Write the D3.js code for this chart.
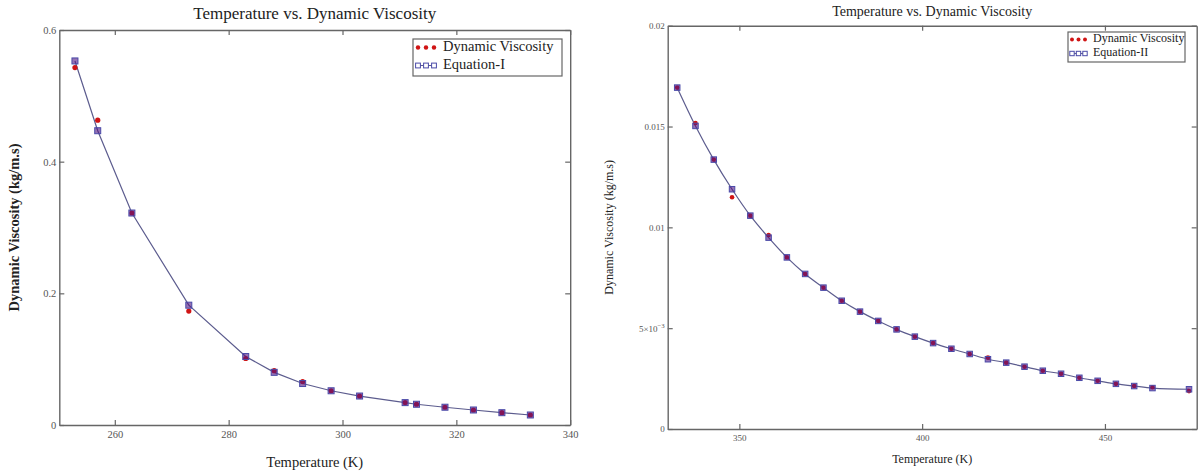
<!DOCTYPE html>
<html>
<head>
<meta charset="utf-8">
<script src="https://cdnjs.cloudflare.com/ajax/libs/d3/7.8.5/d3.min.js"></script>
<style>
  body { margin: 0; background: #fff; }
  svg text { font-family: "Liberation Serif", "Times New Roman", serif; }
  .tick text { fill: #555; }
  .domain, .tick line { stroke: #666; }
</style>
</head>
<body>
<svg id="chart" width="1198" height="474"></svg>
<script>
// left panel: measured viscosity vs Equation-I
const tempsI = [253, 257, 263, 273, 283, 288, 293, 298, 303, 311, 313, 318, 323, 328, 333];
const viscI = [0.543, 0.463, 0.322, 0.173, 0.101, 0.0825, 0.066, 0.052, 0.044, 0.034, 0.0315, 0.027, 0.0228, 0.0187, 0.0152];
const equationI = [0.553, 0.447, 0.322, 0.182, 0.104, 0.080, 0.063, 0.052, 0.044, 0.034, 0.0315, 0.027, 0.0228, 0.0187, 0.0152];
const xTicksI = [260, 280, 300, 320, 340];
const yTicksI = [0, 0.2, 0.4, 0.6];

// right panel: measured viscosity vs Equation-II
const tempsII = [333, 338, 343, 348, 353, 358, 363, 368, 373, 378, 383, 388, 393, 398,
       403, 408, 413, 418, 423, 428, 433, 438, 443, 448, 453, 458, 463, 473];
const viscII = [0.01693, 0.01517, 0.01336, 0.01149, 0.01058, 0.00962, 0.00851, 0.00769, 0.00701, 0.00636,
       0.00582, 0.00536, 0.00494, 0.00458, 0.00426, 0.00398, 0.00372, 0.00354, 0.00329, 0.00309,
       0.00289, 0.00274, 0.00254, 0.00239, 0.00224, 0.00213, 0.00207, 0.00188];
const equationII = [0.01693, 0.01503, 0.01336, 0.01189, 0.01058, 0.00949, 0.00851, 0.00769, 0.00701, 0.00636,
       0.00582, 0.00536, 0.00494, 0.00458, 0.00426, 0.00398, 0.00372, 0.00346, 0.00329, 0.00309,
       0.00289, 0.00274, 0.00254, 0.00239, 0.00224, 0.00213, 0.00203, 0.00197];
const xTicksII = [350, 400, 450];
const yTicksII = [0, 0.005, 0.01, 0.015, 0.02];

const redDot = '#d01414';
const squareStroke = '#4a4aa8';
const lineColor = '#5c5c8e';

function create_panel(cfg) {
    var svg = d3.select('#chart');
    var g = svg.append('g').attr('transform', 'translate(' + cfg.left + ',' + cfg.top + ')');
    var width = cfg.right - cfg.left;
    var height = cfg.bottom - cfg.top;
    var xs = d3.scaleLinear().domain(cfg.xDomain).range([0, width]);
    var ys = d3.scaleLinear().domain(cfg.yDomain).range([height, 0]);

    // box with inward ticks on all four sides
    g.append('g').attr('transform', 'translate(0,' + height + ')')
        .call(d3.axisBottom(xs).tickValues(cfg.xTicks).tickSizeInner(-5).tickSizeOuter(0).tickPadding(6).tickFormat(d3.format('d')))
        .call(a => a.selectAll('text').style('font-size', cfg.tickFont + 'px'));
    g.append('g')
        .call(d3.axisTop(xs).tickValues(cfg.xTicks).tickSizeInner(-5).tickSizeOuter(0).tickFormat(''));
    var yl = g.append('g')
        .call(d3.axisLeft(ys).tickValues(cfg.yTicks).tickSizeInner(-5).tickSizeOuter(0).tickPadding(3).tickFormat(cfg.yFormat));
    yl.selectAll('text').style('font-size', cfg.tickFont + 'px');
    g.append('g').attr('transform', 'translate(' + width + ',0)')
        .call(d3.axisRight(ys).tickValues(cfg.yTicks).tickSizeInner(-5).tickSizeOuter(0).tickFormat(''));
    g.selectAll('.domain').attr('stroke-width', 1.4);
    g.selectAll('.tick line').attr('stroke-width', 1.2);

    // 5x10^-3 style label
    if (cfg.sciTick) {
        yl.selectAll('.tick text').filter(d => d === 0.005).each(function () {
            var t = d3.select(this).text('');
            t.append('tspan').text('5\u00d710');
            t.append('tspan').attr('dy', '-0.5em').style('font-size', (cfg.tickFont * 0.75) + 'px').text('\u22123');
        });
    }

    var line = d3.line()
        .x((d, i) => xs(cfg.temps[i]))
        .y(d => ys(d))
        .curve(cfg.curve);
    g.append('path').datum(cfg.equation)
        .attr('d', line)
        .attr('fill', 'none')
        .attr('stroke', lineColor)
        .attr('stroke-width', 1.2);

    g.selectAll('circle.meas').data(cfg.measured).enter().append('circle')
        .attr('class', 'meas')
        .attr('cx', (d, i) => xs(cfg.temps[i]))
        .attr('cy', d => ys(d))
        .attr('r', cfg.dotR)
        .attr('fill', redDot);

    var s = cfg.sq;
    g.selectAll('rect.eq').data(cfg.equation).enter().append('rect')
        .attr('class', 'eq')
        .attr('x', (d, i) => xs(cfg.temps[i]) - s / 2)
        .attr('y', d => ys(d) - s / 2)
        .attr('width', s)
        .attr('height', s)
        .attr('fill', 'rgba(80,20,130,0.6)')
        .attr('stroke', squareStroke)
        .attr('stroke-width', 1);

    // titles
    var cx = (cfg.left + cfg.right) / 2;
    svg.append('text').attr('x', cx).attr('y', cfg.titleY)
        .attr('text-anchor', 'middle').style('font-size', cfg.titleFont + 'px').style('fill', '#222')
        .text('Temperature vs. Dynamic Viscosity');
    svg.append('text').attr('x', cx).attr('y', cfg.xLabelY)
        .attr('text-anchor', 'middle').style('font-size', cfg.labelFont + 'px').style('fill', '#222')
        .text('Temperature (K)');
    svg.append('text')
        .attr('transform', 'translate(' + cfg.yLabelX + ',' + (cfg.top + cfg.bottom) / 2 + ') rotate(-90)')
        .attr('text-anchor', 'middle').attr('dominant-baseline', 'middle')
        .style('font-size', cfg.labelFont + 'px').style('font-weight', cfg.yLabelWeight).style('fill', '#222')
        .text('Dynamic Viscosity (kg/m.s)');

    // legend
    var L = cfg.legend;
    var lg = svg.append('g');
    lg.append('rect').attr('x', L.x).attr('y', L.y).attr('width', L.w).attr('height', L.h)
        .attr('fill', '#fff').attr('stroke', '#666').attr('stroke-width', 1.2);
    var names = ['Dynamic Viscosity', cfg.eqName];
    lg.selectAll('text').data(names).enter().append('text')
        .attr('x', L.x + L.textDx)
        .attr('y', (d, i) => L.y + L.row0 + i * L.rowGap)
        .attr('dominant-baseline', 'middle')
        .style('font-size', L.font + 'px').style('fill', '#222')
        .text(d => d);
    var sx = [0, 1, 2].map(k => L.x + L.markDx + k * L.markGap);
    lg.selectAll('circle').data(sx).enter().append('circle')
        .attr('cx', d => d).attr('cy', L.y + L.row0).attr('r', cfg.dotR * 0.85).attr('fill', redDot);
    var ry = L.y + L.row0 + L.rowGap;
    lg.append('line').attr('x1', sx[0]).attr('x2', sx[2]).attr('y1', ry).attr('y2', ry)
        .attr('stroke', lineColor).attr('stroke-width', 1);
    lg.selectAll('rect.lsq').data(sx).enter().append('rect').attr('class', 'lsq')
        .attr('x', d => d - s * 0.4).attr('y', ry - s * 0.4).attr('width', s * 0.8).attr('height', s * 0.8)
        .attr('fill', '#fff').attr('stroke', squareStroke).attr('stroke-width', 1);
}

create_panel({
    left: 59.3, right: 570.2, top: 30, bottom: 425,
    xDomain: [250.25, 340], yDomain: [0, 0.6],
    xTicks: xTicksI, yTicks: yTicksI, yFormat: d3.format('~g'),
    temps: tempsI, measured: viscI, equation: equationI, eqName: 'Equation-I',
    curve: d3.curveLinear, dotR: 2.6, sq: 6,
    tickFont: 10.5, titleFont: 17, labelFont: 14.5, yLabelWeight: 'bold',
    titleY: 19, xLabelY: 467, yLabelX: 16,
    legend: {x: 413, y: 39, w: 149, h: 37, font: 14.5, textDx: 30, row0: 8.5, rowGap: 18, markDx: 5, markGap: 8}
});

create_panel({
    left: 667.7, right: 1196.7, top: 25.7, bottom: 429,
    xDomain: [330.4, 475.1], yDomain: [0, 0.02],
    xTicks: xTicksII, yTicks: yTicksII, yFormat: d => d === 0 ? '0' : d3.format('~g')(d), sciTick: true,
    temps: tempsII, measured: viscII, equation: equationII, eqName: 'Equation-II',
    curve: d3.curveMonotoneX, dotR: 2.3, sq: 5.5,
    tickFont: 9, titleFont: 14, labelFont: 12, yLabelWeight: 'normal',
    titleY: 15.5, xLabelY: 463, yLabelX: 610,
    legend: {x: 1068, y: 32, w: 117, h: 30, font: 12, textDx: 25, row0: 7.5, rowGap: 14, markDx: 4, markGap: 6.5}
});
</script>
</body>
</html>
